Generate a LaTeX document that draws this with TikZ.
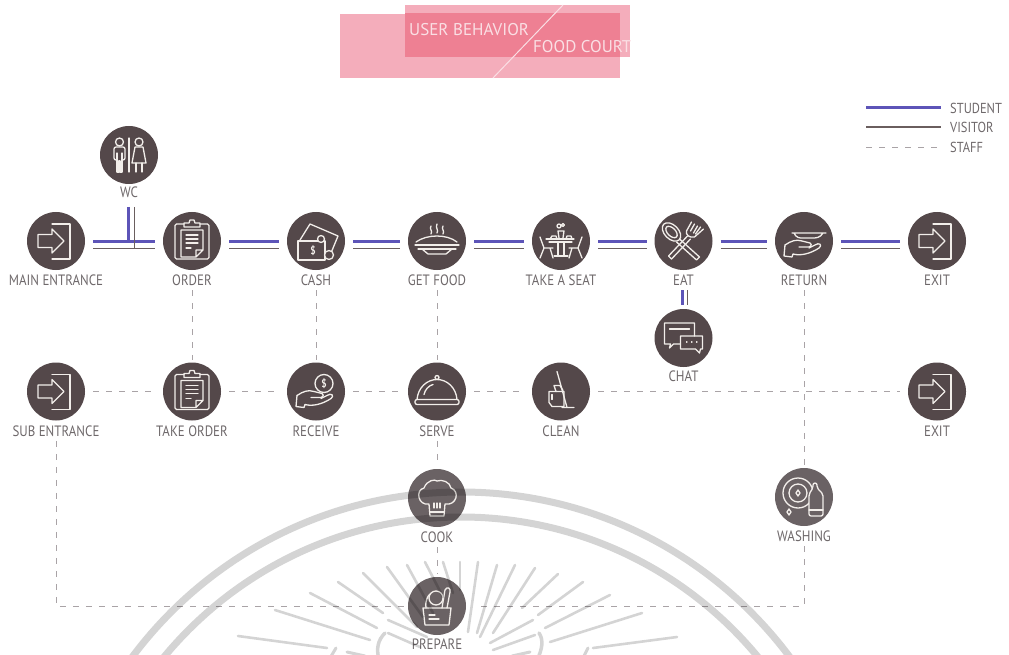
\documentclass[tikz,border=0pt]{standalone}
\usepackage{fontspec}
\setmainfont[FakeStretch=0.86]{PT Sans}
\newfontfamily\titlefont{PT Sans}
\usepackage{tikz}
\usetikzlibrary{positioning}
\definecolor{hubcol}{HTML}{54484A}
\definecolor{hubfade}{HTML}{6A6264}
\definecolor{icocol}{HTML}{F2EEEA}
\definecolor{labcol}{HTML}{6E686A}
\definecolor{studentcol}{HTML}{5D54B8}
\definecolor{visitorcol}{HTML}{6A5E5E}
\definecolor{staffcol}{HTML}{A9A3A6}
\definecolor{pinkpale}{HTML}{F4ADBB}
\definecolor{pinkdark}{HTML}{EE8093}
\definecolor{titlecol}{HTML}{FADFE4}
\tikzset{
  hub/.style={circle,fill=hubcol,minimum size=58pt,inner sep=0pt,outer sep=0pt},
  hubpale/.style={hub,fill=hubfade},
  lab/.style={inner sep=1pt,text=labcol,font=\fontsize{15}{16}\selectfont},
  keylab/.style={lab,anchor=west,font=\fontsize{14.5}{15}\selectfont},
  titlelab/.style={anchor=west,inner sep=0pt,text=titlecol,font=\titlefont\fontsize{17}{17}\selectfont},
  student/.style={draw=studentcol,line width=3pt,shorten >=8pt,shorten <=8pt},
  visitor/.style={draw=visitorcol,line width=1.7pt,shorten >=8pt,shorten <=8pt},
  staff/.style={draw=staffcol,line width=0.8pt,dash pattern=on 6pt off 7pt,shorten >=8pt,shorten <=8pt},
  ico/.style={draw=icocol,line width=1.3pt,line join=round,line cap=round},
  door/.pic={
    \draw[ico] (-4,-17) -- (14,-17) -- (14,18) -- (-4,18);
    \draw[ico] (-18,-6.5) -- (-4,-6.5) -- (-4,-12) -- (8,0) -- (-4,12) -- (-4,6.5) -- (-18,6.5) -- cycle;
  },
  board/.pic={
    \draw[ico,rounded corners=1.5pt] (-8,-17) -- (-17,-17) -- (-17,18) -- (17,18) -- (17,-17) -- (8,-17);
    \draw[ico] (-8,-14) -- (-8,-18) -- (-3,-18) -- (-2,-21) -- (2,-21) -- (3,-18) -- (8,-18) -- (8,-14) -- cycle;
    \draw[ico] (-11,-11) -- (11,-11) -- (11,9) -- (4,16) -- (-11,16) -- cycle (11,9) -- (4,9) -- (4,16);
    \draw[ico] (-6,-6) -- (6,-6) (-6,-2) -- (6,-2) (-6,2) -- (6,2) (-6,7) -- (-1,7);
  },
  cash/.pic={
    \draw[ico] (-16,-1) -- (-6,-17) -- (22,-5) -- (15,12);
    \draw[ico] (-18,0) -- (9,0) -- (9,19) -- (-18,19) -- cycle;
    \draw[ico,fill=hubcol] (5,-2) circle[radius=3.5];
    \draw[ico,fill=hubcol] (13,14) circle[radius=4.5];
    \node[text=icocol,inner sep=0pt,font=\fontsize{11}{11}\selectfont\bfseries] (dollar) at (-3,10) {\$};
  },
  food/.pic={
    \draw[ico] (-6,-15) .. controls (-8,-12) and (-4,-10) .. (-6,-7) (0,-17) .. controls (-2,-13) and (2,-11) .. (0,-8) (6,-15) .. controls (4,-12) and (8,-10) .. (6,-7);
    \draw[ico] (-21,1) .. controls (-10,-7) and (10,-7) .. (20,1);
    \draw[ico] (-22,4) -- (22,4) (-19,8) -- (19,8);
    \draw[ico] (-15,8) -- (-9,13) -- (9,13) -- (15,8);
  },
  seat/.pic={
    \draw[ico] (-15,-2) -- (13,-2) (-12,1) -- (11,1);
    \draw[ico] (-3,1) -- (-3,14) (3,1) -- (3,14) (-7,15) -- (7,15);
    \draw[ico] (-2,-3) -- (-3,-10) -- (3,-10) -- (2,-3);
    \draw[ico] (-2,-15) circle[radius=2] (2,-16) circle[radius=1.5];
    \draw[ico] (-21,-4) -- (-17,7) -- (-8,7) (-17,7) -- (-21,17) (-11,7) -- (-8,17);
    \draw[ico] (21,-4) -- (17,7) -- (8,7) (17,7) -- (21,17) (11,7) -- (8,17);
    \draw[ico] (-11,-2) -- (-9,-5) -- (-5,-5) -- (-4,-2) (5,-2) -- (6,-5) -- (10,-5) -- (11,-2);
  },
  eat/.pic={
    \draw[ico] (-12,-9) ellipse[x radius=11,y radius=7,rotate=-45];
    \draw[ico] (-12,-9) ellipse[x radius=7,y radius=4,rotate=-45];
    \draw[ico] (-4,-2) -- (16,16) -- (13,19) -- (-7,1);
    \draw[ico] (8,-19) -- (3,-10) .. controls (2,-6) and (6,-3) .. (11,-4) -- (20,-12);
    \draw[ico] (11,-17) -- (7,-10) (14,-15) -- (10,-8) (17,-14) -- (12,-7);
    \draw[ico] (4,-5) -- (-15,15) -- (-12,18) -- (7,-2);
  },
  hand/.pic={
    \draw[ico] (-19,4) -- (-20,15) -- (-12,16) -- (-11,13) .. controls (-4,15) and (6,13) .. (15,7) .. controls (19,4) and (15,1) .. (11,4) -- (5,7);
    \draw[ico] (-19,4) .. controls (-13,0) and (-8,-2) .. (-2,0) -- (6,2) .. controls (9,4) and (6,7) .. (2,6) -- (-5,6);
  },
  tray/.pic={
    \draw[ico] (-12,-8) -- (22,-8) (-10,-8) .. controls (-8,-3) and (-4,-3) .. (-2,-3) -- (8,-3) .. controls (12,-3) and (16,-3) .. (19,-8);
  },
  coin/.pic={
    \draw[ico] (8,-8) circle[radius=9];
    \node[text=icocol,inner sep=0pt,font=\fontsize{11}{11}\selectfont\bfseries] (dollar) at (8,-8) {\$};
  },
  chat/.pic={
    \draw[ico] (-3,6) -- (-10,6) -- (-14,10) -- (-13,6) -- (-19,6) -- (-19,-15) -- (11,-15) -- (11,-2);
    \draw[ico] (-14,-9) -- (6,-9);
    \draw[ico] (-3,-2) -- (19,-2) -- (19,11) -- (17,11) -- (16,15) -- (12,11) -- (-3,11) -- cycle;
    \draw[ico] (3,4) -- (3.5,4) (8,4) -- (8.5,4) (13,4) -- (13.5,4);
  },
  dome/.pic={
    \draw[ico] (-20,8) .. controls (-19,-4) and (-10,-12) .. (0,-12) .. controls (10,-12) and (19,-4) .. (20,8);
    \draw[ico] (-13,3) .. controls (-12,-2) and (-8,-6) .. (-4,-7);
    \draw[ico] (0,-14) circle[radius=2];
    \draw[ico,rounded corners=2pt] (-22,8) rectangle (22,13);
  },
  mop/.pic={
    \draw[ico] (-4,-20) -- (6,16) (1,16) -- (13,16);
    \draw[ico] (-12,0) -- (3,0) -- (3,15) -- (-9,15) -- (-12,11) -- cycle;
    \draw[ico] (-7,-6) -- (-1,-6) (-7,-6) -- (-5,0) (-1,-6) -- (2,-1);
    \draw[ico] (-9,3) -- (-9,8);
  },
  hat/.pic={
    \draw[ico] (-8,6) .. controls (-19,8) and (-22,-8) .. (-13,-10) .. controls (-10,-18) and (-2,-19) .. (0,-17) .. controls (5,-19) and (13,-16) .. (14,-10) .. controls (23,-7) and (20,8) .. (8,6) -- (7,18) -- (-7,18) -- cycle;
    \draw[ico] (-7,14) -- (7,14) (-3,5) -- (-3,10) (0,5) -- (0,10) (3,5) -- (3,10);
  },
  wash/.pic={
    \draw[ico] (-6,-4) circle[radius=15] (-6,-4) circle[radius=9];
    \draw[ico] (-6,-7) -- (-4,-4) -- (-6,-1) -- (-8,-4) -- cycle;
    \draw[ico] (-15,12) -- (-13,15) -- (-15,18) -- (-17,15) -- cycle;
    \draw[ico,fill=hubfade,rounded corners=2pt] (5,19) -- (5,-3) -- (9,-9) -- (9,-14) -- (13,-14) -- (13,-9) -- (19,-3) -- (19,19) -- cycle;
    \draw[ico] (5,13) -- (19,13);
  },
  bag/.pic={
    \draw[ico] (-14,2) -- (14,2) -- (12,19) -- (-12,19) -- cycle;
    \draw[ico] (-1,-8) circle[radius=7];
    \draw[ico] (5,2) -- (8,-16) .. controls (10,-20) and (14,-18) .. (13,-14) -- (10,2);
    \draw[ico] (-11,2) .. controls (-12,-6) and (-9,-10) .. (-7,-12);
    \draw[ico] (-8,9) -- (-2,9) (-8,13) -- (2,13);
  },
  toilet/.pic={
    \draw[ico] (0,-17) -- (0,17);
    \draw[ico] (-9.5,-13) circle[radius=4] (10,-13) circle[radius=4];
    \draw[ico,rounded corners=2pt] (-12,5) -- (-15,5) -- (-15,-8) -- (-4,-8) -- (-4,5) -- (-7,5);
    \draw[ico] (-12,-2) -- (-12,17) -- (-10,17) -- (-10,6) -- (-9,6) -- (-9,17) -- (-7,17) -- (-7,-2);
    \draw[ico] (6,-8) -- (14,-8) -- (17,8) -- (3,8) -- cycle;
    \draw[ico] (7,8) -- (7,17) (13,8) -- (13,17);
  }
}
\begin{document}
\begin{tikzpicture}[x=1pt,y=-1pt]
    \useasboundingbox (0,0) rectangle (1009,655);
    %title
    \fill[pinkpale] (340,14) rectangle (620,78);
    \fill[pinkpale] (405,5) rectangle (630,57);
    \fill[pinkdark] (405,13) rectangle (620,57);
    \draw[titlecol,line width=1pt] (493,78) -- (563,5);
    \node[titlelab] (behavior) at (409,30) {USER BEHAVIOR};
    \begin{scope}
      \clip (500,30) rectangle (630,60);
      \node[titlelab] (court) at (533,47) {FOOD COURT};
    \end{scope}
    %legend
    \node[keylab] (studentlab) at (949,108) {STUDENT};
    \node[keylab] (visitorlab) at (949,127) {VISITOR};
    \node[keylab] (stafflab) at (949,147) {STAFF};
    \coordinate (studentkey) at (858,108);
    \coordinate (visitorkey) at (858,127);
    \coordinate (staffkey) at (858,147);
    \path (studentkey) edge[student] (studentlab.west)
      (visitorkey) edge[visitor] (visitorlab.west)
      (staffkey) edge[staff] (stafflab.west);
    %student and visitor states
    \node[hub] (main) at (56,241) {};
    \node[lab,below=4pt of main] (mainlab) {MAIN ENTRANCE};
    \node[hub] (order) at (192,241) {};
    \node[lab,below=4pt of order] (orderlab) {ORDER};
    \node[hub] (cash) at (316,241) {};
    \node[lab,below=4pt of cash] (cashlab) {CASH};
    \node[hub] (getfood) at (437,241) {};
    \node[lab,below=4pt of getfood] (getfoodlab) {GET FOOD};
    \node[hub] (seat) at (561,241) {};
    \node[lab,below=4pt of seat] (seatlab) {TAKE A SEAT};
    \node[hub] (eat) at (683.5,241) {};
    \node[lab,below=4pt of eat] (eatlab) {EAT};
    \node[hub] (return) at (804,241) {};
    \node[lab,below=4pt of return] (returnlab) {RETURN};
    \node[hub] (exit) at (937,241) {};
    \node[lab,below=4pt of exit] (exitlab) {EXIT};
    \node[hub] (wc) at (129,155) {};
    \node[lab,below=2pt of wc] (wclab) {WC};
    \node[hub] (chat) at (683.5,338) {};
    \node[lab,below=3pt of chat] (chatlab) {CHAT};
    %staff states
    \node[hub] (sub) at (56,391.5) {};
    \node[lab,below=4pt of sub] (sublab) {SUB ENTRANCE};
    \node[hub] (take) at (192,391.5) {};
    \node[lab,below=4pt of take] (takelab) {TAKE ORDER};
    \node[hub] (receive) at (316,391.5) {};
    \node[lab,below=4pt of receive] (receivelab) {RECEIVE};
    \node[hub] (serve) at (437,391.5) {};
    \node[lab,below=4pt of serve] (servelab) {SERVE};
    \node[hub] (clean) at (561,391.5) {};
    \node[lab,below=4pt of clean] (cleanlab) {CLEAN};
    \node[hub] (exitb) at (937,391.5) {};
    \node[lab,below=4pt of exitb] (exitblab) {EXIT};
    \node[hubpale] (cook) at (437,498) {};
    \node[lab,below=4pt of cook] (cooklab) {COOK};
    \node[hubpale] (washing) at (804,497) {};
    \node[lab,below=4pt of washing] (washinglab) {WASHING};
    \node[hubpale] (prepare) at (437,606) {};
    \node[lab,below=3pt of prepare] (preparelab) {PREPARE};
    %icons
    \pic at (main) {door};
    \pic at (order) {board};
    \pic at (cash) {cash};
    \pic at (getfood) {food};
    \pic at (seat) {seat};
    \pic at (eat) {eat};
    \pic at (return) {hand};
    \pic at (return) {tray};
    \pic at (exit) {door};
    \pic at (wc) {toilet};
    \pic at (chat) {chat};
    \pic at (sub) {door};
    \pic at (take) {board};
    \pic at (receive) {hand};
    \pic at (receive) {coin};
    \pic at (serve) {dome};
    \pic at (clean) {mop};
    \pic at (exitb) {door};
    \pic at (cook) {hat};
    \pic at (washing) {wash};
    \pic at (prepare) {bag};
    %edges
    \foreach \a/\b in {main/order,order/cash,cash/getfood,getfood/seat,seat/eat,eat/return,return/exit}
      \path (\a.east) edge[student] (\b.west)
        ([yshift=-7.5pt]\a.east) edge[visitor] ([yshift=-7.5pt]\b.west);
    \coordinate (wcblue) at (128,207);
    \coordinate (wcjoin) at (128,241);
    \coordinate (wcdark) at (134,207);
    \coordinate (wcfoot) at (134,249);
    \path (wcblue) edge[student,shorten >=0pt,shorten <=0pt] (wcjoin)
      (wcdark) edge[visitor,line width=.9pt,shorten >=0pt,shorten <=0pt] (wcfoot);
    \path ([xshift=-1.5pt]eatlab.south) edge[student,shorten >=4pt,shorten <=3pt] ([xshift=-1.5pt]chat.north)
      ([xshift=4pt]eatlab.south) edge[visitor,shorten >=4pt,shorten <=3pt] ([xshift=4pt]chat.north);
    \foreach \a/\b in {sub/take,take/receive,receive/serve,serve/clean,clean/exitb}
      \path (\a.east) edge[staff] (\b.west);
    \foreach \a/\b in {orderlab/take,cashlab/receive,getfoodlab/serve,returnlab/washing,servelab/cook,cooklab/prepare}
      \path (\a.south) edge[staff,shorten >=3pt,shorten <=3pt] (\b.north);
    \draw[staff,shorten >=2pt,shorten <=3pt] (sublab.south) |- (prepare.west);
    \draw[staff,shorten >=10pt,shorten <=3pt] (washinglab.south) |- (prepare.east);
    %seal
    \begin{scope}[draw=black,opacity=.17,line cap=round]
      \clip (0,0) rectangle (1009,655);
      \draw[line width=7pt] (461,902) circle[radius=410];
      \draw[line width=7pt] (461,902) circle[radius=385];
      \foreach \ax/\ay/\bx/\by in {677/637/593/648,642/613/550/642,610/595/545/628,583/582/538/615,558/574/522/608,533/620/490/643,535/635/493/650,535/568/493/633,515/565/480/637,497/565/477/633,478/562/468/632,460/562/460/590,238/636/327/648,275/610/370/640,310/593/377/628,338/582/383/613,363/573/417/627,387/567/423/617,407/565/433/613,425/562/443/597,443/562/453/593,388/620/427/637,388/633/420/647}
        \draw[line width=2.6pt] (\ax,\ay) -- (\bx,\by);
      \draw[line width=3.5pt] (385,633) .. controls (378,640) and (376,648) .. (379,660);
      \draw[line width=3.5pt] (539,633) .. controls (544,640) and (542,650) .. (537,660);
      \draw[line width=3pt] (347,652) -- (365,656);
      \draw[line width=3pt] (530,652) -- (512,656);
      \draw[line width=3pt] (336,648) -- (330,658);
      \draw[line width=3pt] (588,648) -- (583,658);
    \end{scope}
\end{tikzpicture}
\end{document}
